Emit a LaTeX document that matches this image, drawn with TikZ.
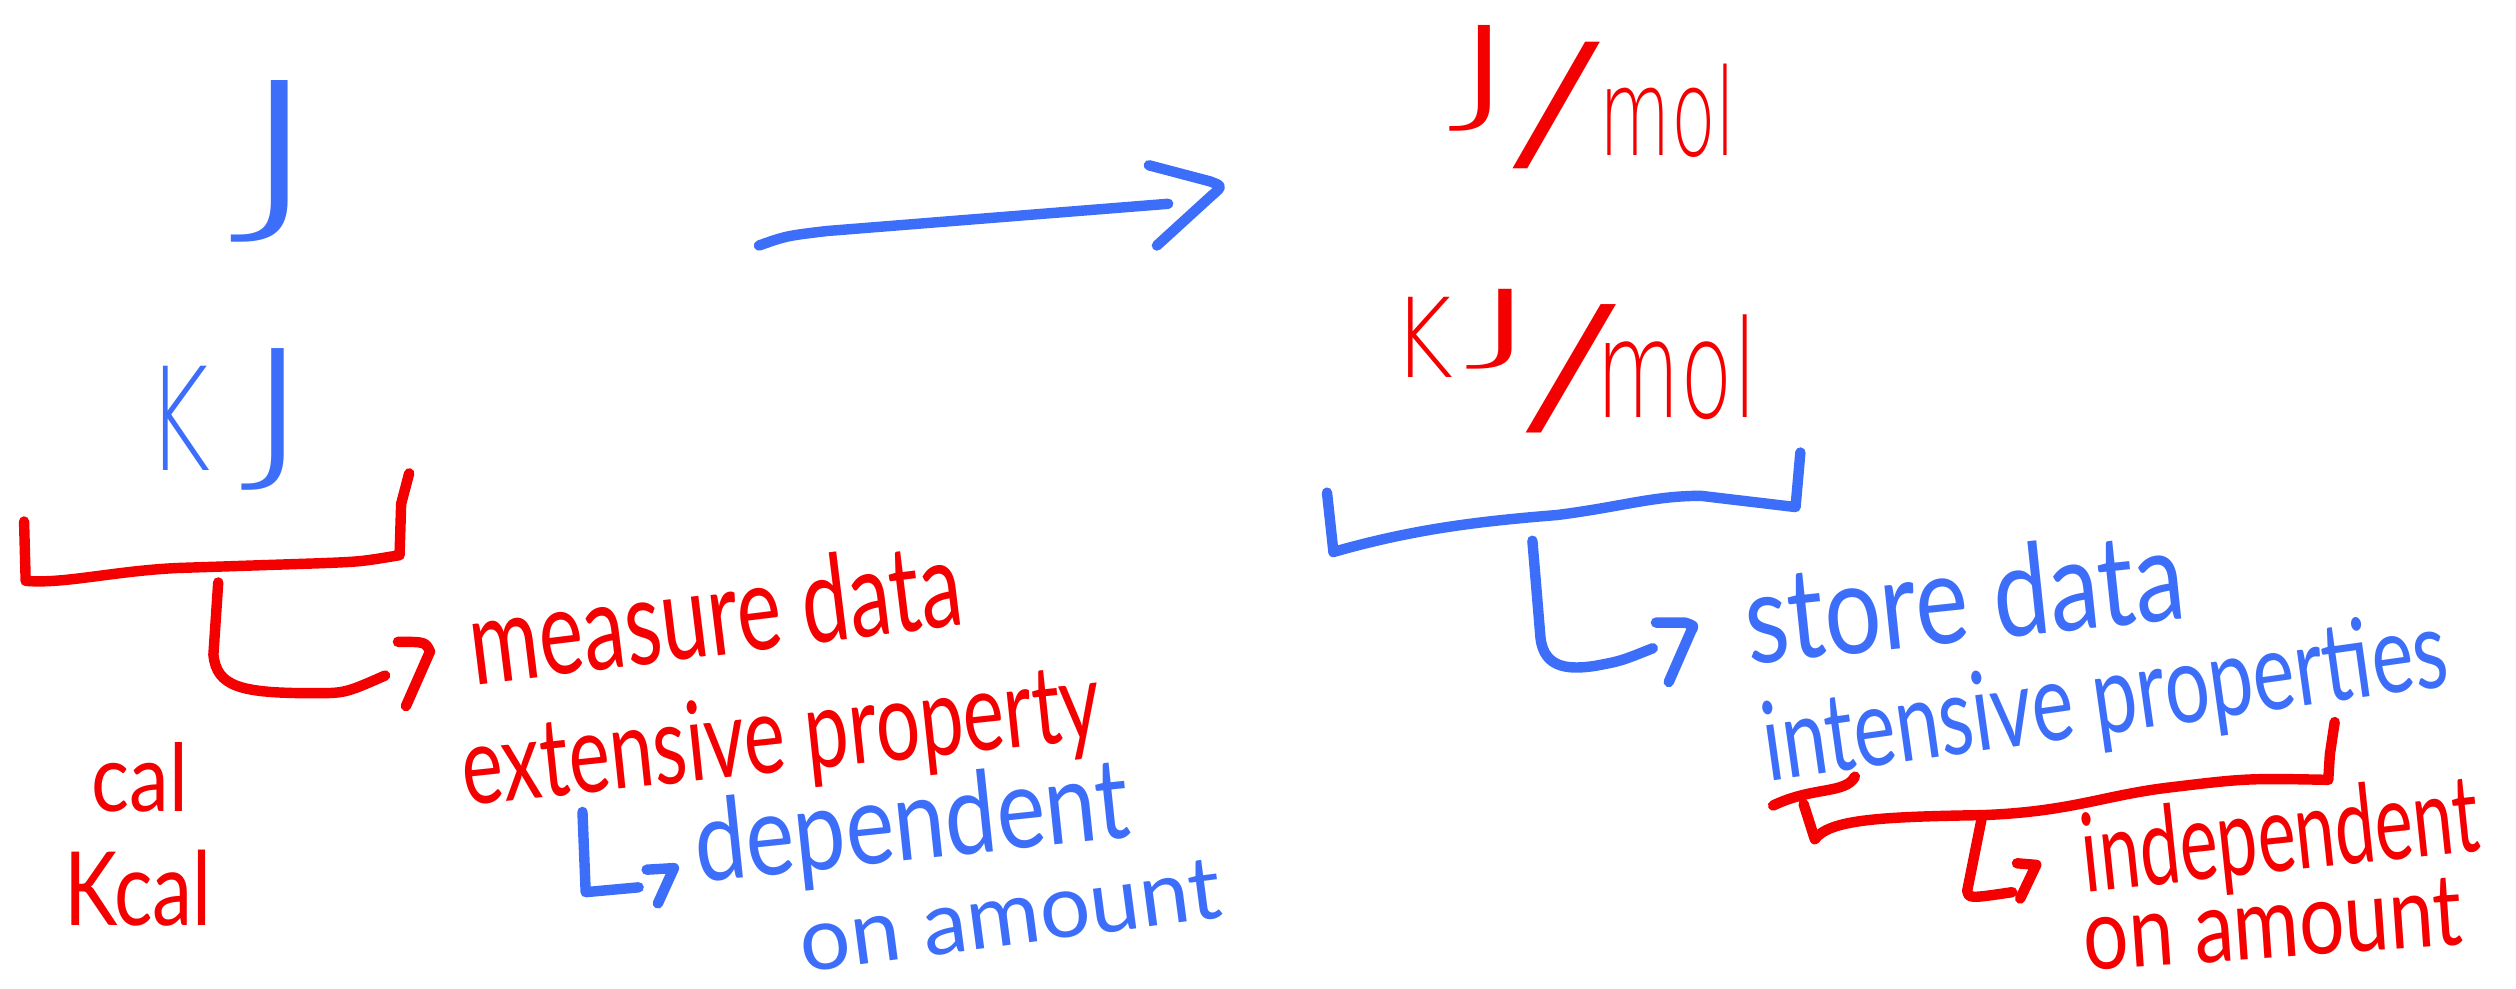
\documentclass[tikz,border=0pt]{standalone}
\usepackage{fontspec}
\setmainfont{Lato}
\newfontfamily\thinfont{DejaVu Sans ExtraLight}
\definecolor{inkblue}{RGB}{60,110,250}
\definecolor{inkred}{RGB}{245,0,0}
\newcommand{\hw}[3]{\resizebox{#1pt}{#2pt}{#3}}
\begin{document}
\begin{tikzpicture}[x=1pt,y=-1pt,line cap=round,line join=round,
  ink/.style={line width=6.5pt},
  txt/.style={inner sep=0pt,outer sep=0pt,anchor=base west},
  bluetxt/.style={txt,text=inkblue},
  redtxt/.style={txt,text=inkred}]
\useasboundingbox (0,0) rectangle (1568,616);
% ---------- left column ----------
\node[bluetxt,font=\thinfont] (J) at (143,131) {\hw{63}{81}{J}};
\node[bluetxt,font=\thinfont] (kJ) at (91,293) {\hw{40}{65}{K}\kern19pt\raisebox{5pt}{\hw{47}{71}{J}}};
% big arrow
\coordinate (a0) at (473,153);
\coordinate (a1) at (728,127);
\coordinate (h1) at (716,103);
\coordinate (h2) at (757,115);
\coordinate (h3) at (721,153);
\draw[ink,inkblue] (a0) .. controls (490,147) .. (515,144) -- (a1);
\draw[ink,inkblue] (h1) -- (754,113) .. controls (762,116) .. (755,122) -- (h3);
% ---------- right column units ----------
\node[redtxt,font=\thinfont] (Jmol) at (903,69) {\hw{45}{53}{J}\kern-8pt\raisebox{-27pt}{\hw{60}{70}{/}}\kern-3pt\raisebox{-28pt}{\hw{85}{57}{mol}}};
\node[redtxt,font=\thinfont] (kJmol) at (868,235) {\hw{38}{50}{K}\kern7pt\raisebox{15pt}{\hw{50}{40}{J}}\kern-15pt\raisebox{-26pt}{\hw{62}{71}{/}}\kern-15pt\raisebox{-25pt}{\hw{100}{64}{mol}}};
% ---------- left red bracket ----------
\coordinate (lb1) at (15,325);
\coordinate (lb2) at (16,362);
\coordinate (lb3) at (249,346);
\coordinate (lb4) at (255,295);
\draw[ink,inkred] (lb1) -- (lb2) .. controls (40,364) and (70,356) .. (110,354) -- (200,351) .. controls (225,350) .. (lb3) -- (250,314) -- (lb4);
\coordinate (lh1) at (136,363);
\coordinate (lh2) at (240,421);
\draw[ink,inkred] (lh1) -- (133,408) .. controls (135,428) and (150,432) .. (195,432) .. controls (215,432) .. (lh2);
\draw[ink,inkred] (248,400) .. controls (265,400) .. (268,406) -- (253,440);
\node[redtxt,rotate=7] (measure) at (296,427) {\hw{308}{55}{measure data}};
\node[redtxt,rotate=6] (extensive) at (290,502) {\hw{400}{50}{extensive property}};
\node[redtxt] (cal) at (57,506) {\hw{60}{43}{cal}};
\node[redtxt] (kcal) at (40,577) {\hw{92}{47}{Kcal}};
% blue L-arrow
\draw[ink,inkblue] (363,506) -- (365,556) -- (398,553);
\draw[ink,inkblue] (403,542) -- (420,541) -- (410,563);
\node[bluetxt,rotate=6] (dependent) at (435,550) {\hw{272}{52}{dependent}};
\node[bluetxt,rotate=7.5] (amountL) at (501,606) {\hw{264}{37}{on amount}};
% ---------- right blue bracket ----------
\coordinate (rb1) at (827,307);
\coordinate (rb2) at (831,344);
\coordinate (rb3) at (1119,316);
\coordinate (rb4) at (1122,282);
\draw[ink,inkblue] (rb1) -- (rb2) .. controls (880,330) and (920,325) .. (970,321) .. controls (1010,316) and (1030,309) .. (1060,309) -- (rb3) -- (rb4);
\coordinate (rh1) at (955,337);
\coordinate (rh2) at (1030,404);
\draw[ink,inkblue] (rh1) -- (960,397) .. controls (962,418) and (980,417) .. (994,415) .. controls (1010,412) .. (rh2);
\draw[ink,inkblue] (1032,388) -- (1050,388) .. controls (1056,390) .. (1054,393) -- (1040,425);
\node[bluetxt,rotate=6] (store) at (1090,414) {\hw{275}{58}{store data}};
\node[bluetxt,rotate=8] (intensive) at (1102,487) {\hw{430}{50}{intensive properties}};
% red underline and bracket
\draw[ink,inkred] (1105,502) .. controls (1130,490) and (1150,495) .. (1156,484);
\coordinate (sb1) at (1124,501);
\coordinate (sb2) at (1131,523);
\coordinate (sb3) at (1451,486);
\coordinate (sb4) at (1455,450);
\draw[ink,inkred] (sb1) -- (sb2) .. controls (1140,511) and (1170,509) .. (1235,508) .. controls (1290,506) and (1310,496) .. (1350,491) .. controls (1400,485) .. (sb3) -- (1452,470) -- (sb4);
\draw[ink,inkred] (1235,510) -- (1226,555) .. controls (1227,560) .. (1254,556);
\draw[ink,inkred] (1257,538) -- (1269,539) -- (1259,560);
\node[redtxt,rotate=6] (independent) at (1300,556) {\hw{248}{50}{independent}};
\node[redtxt,rotate=4] (amountR) at (1300,605) {\hw{236}{42}{on amount}};
\end{tikzpicture}
\end{document}
